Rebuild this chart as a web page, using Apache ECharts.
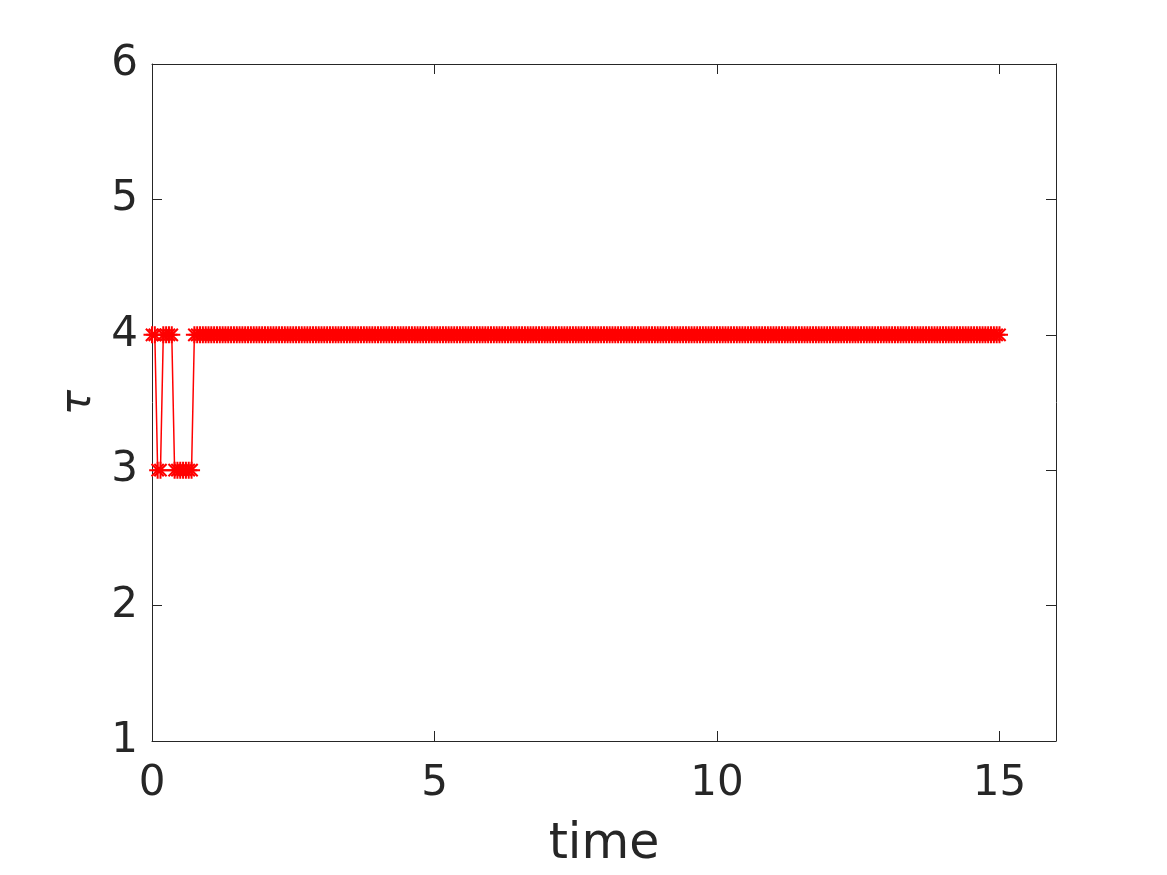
<!DOCTYPE html>
<html lang="en">
<head>
    <meta charset="UTF-8">
    <title>tau vs time</title>
    <script src="https://cdn.jsdelivr.net/npm/echarts@6/dist/echarts.min.js"></script>
    <style>
        html, body {margin: 0; padding: 0; background: #ffffff;}
        #chart {width: 1167px; height: 875px;}
    </style>
</head>
<body>
<div id="chart"></div>
<script type="text/javascript">
    // sample times (step looks like 0.05)
    var times = [
        0, 0.05, 0.1, 0.15, 0.2, 0.25, 0.3, 0.35, 0.4, 0.45, 0.5, 0.55, 0.6, 0.65, 0.7, 0.75, 0.8, 0.85, 0.9, 0.95,
        1, 1.05, 1.1, 1.15, 1.2, 1.25, 1.3, 1.35, 1.4, 1.45, 1.5, 1.55, 1.6, 1.65, 1.7, 1.75, 1.8, 1.85, 1.9, 1.95,
        2, 2.05, 2.1, 2.15, 2.2, 2.25, 2.3, 2.35, 2.4, 2.45, 2.5, 2.55, 2.6, 2.65, 2.7, 2.75, 2.8, 2.85, 2.9, 2.95,
        3, 3.05, 3.1, 3.15, 3.2, 3.25, 3.3, 3.35, 3.4, 3.45, 3.5, 3.55, 3.6, 3.65, 3.7, 3.75, 3.8, 3.85, 3.9, 3.95,
        4, 4.05, 4.1, 4.15, 4.2, 4.25, 4.3, 4.35, 4.4, 4.45, 4.5, 4.55, 4.6, 4.65, 4.7, 4.75, 4.8, 4.85, 4.9, 4.95,
        5, 5.05, 5.1, 5.15, 5.2, 5.25, 5.3, 5.35, 5.4, 5.45, 5.5, 5.55, 5.6, 5.65, 5.7, 5.75, 5.8, 5.85, 5.9, 5.95,
        6, 6.05, 6.1, 6.15, 6.2, 6.25, 6.3, 6.35, 6.4, 6.45, 6.5, 6.55, 6.6, 6.65, 6.7, 6.75, 6.8, 6.85, 6.9, 6.95,
        7, 7.05, 7.1, 7.15, 7.2, 7.25, 7.3, 7.35, 7.4, 7.45, 7.5, 7.55, 7.6, 7.65, 7.7, 7.75, 7.8, 7.85, 7.9, 7.95,
        8, 8.05, 8.1, 8.15, 8.2, 8.25, 8.3, 8.35, 8.4, 8.45, 8.5, 8.55, 8.6, 8.65, 8.7, 8.75, 8.8, 8.85, 8.9, 8.95,
        9, 9.05, 9.1, 9.15, 9.2, 9.25, 9.3, 9.35, 9.4, 9.45, 9.5, 9.55, 9.6, 9.65, 9.7, 9.75, 9.8, 9.85, 9.9, 9.95,
        10, 10.05, 10.1, 10.15, 10.2, 10.25, 10.3, 10.35, 10.4, 10.45, 10.5, 10.55, 10.6, 10.65, 10.7, 10.75, 10.8, 10.85, 10.9, 10.95,
        11, 11.05, 11.1, 11.15, 11.2, 11.25, 11.3, 11.35, 11.4, 11.45, 11.5, 11.55, 11.6, 11.65, 11.7, 11.75, 11.8, 11.85, 11.9, 11.95,
        12, 12.05, 12.1, 12.15, 12.2, 12.25, 12.3, 12.35, 12.4, 12.45, 12.5, 12.55, 12.6, 12.65, 12.7, 12.75, 12.8, 12.85, 12.9, 12.95,
        13, 13.05, 13.1, 13.15, 13.2, 13.25, 13.3, 13.35, 13.4, 13.45, 13.5, 13.55, 13.6, 13.65, 13.7, 13.75, 13.8, 13.85, 13.9, 13.95,
        14, 14.05, 14.1, 14.15, 14.2, 14.25, 14.3, 14.35, 14.4, 14.45, 14.5, 14.55, 14.6, 14.65, 14.7, 14.75, 14.8, 14.85, 14.9, 14.95,
        15
    ];

    // tau at each sample time
    var tau = [
        4, 4, 3, 3, 4, 4, 4, 4, 3, 3, 3, 3, 3, 3, 3, 4, 4, 4, 4, 4,
        4, 4, 4, 4, 4, 4, 4, 4, 4, 4, 4, 4, 4, 4, 4, 4, 4, 4, 4, 4,
        4, 4, 4, 4, 4, 4, 4, 4, 4, 4, 4, 4, 4, 4, 4, 4, 4, 4, 4, 4,
        4, 4, 4, 4, 4, 4, 4, 4, 4, 4, 4, 4, 4, 4, 4, 4, 4, 4, 4, 4,
        4, 4, 4, 4, 4, 4, 4, 4, 4, 4, 4, 4, 4, 4, 4, 4, 4, 4, 4, 4,
        4, 4, 4, 4, 4, 4, 4, 4, 4, 4, 4, 4, 4, 4, 4, 4, 4, 4, 4, 4,
        4, 4, 4, 4, 4, 4, 4, 4, 4, 4, 4, 4, 4, 4, 4, 4, 4, 4, 4, 4,
        4, 4, 4, 4, 4, 4, 4, 4, 4, 4, 4, 4, 4, 4, 4, 4, 4, 4, 4, 4,
        4, 4, 4, 4, 4, 4, 4, 4, 4, 4, 4, 4, 4, 4, 4, 4, 4, 4, 4, 4,
        4, 4, 4, 4, 4, 4, 4, 4, 4, 4, 4, 4, 4, 4, 4, 4, 4, 4, 4, 4,
        4, 4, 4, 4, 4, 4, 4, 4, 4, 4, 4, 4, 4, 4, 4, 4, 4, 4, 4, 4,
        4, 4, 4, 4, 4, 4, 4, 4, 4, 4, 4, 4, 4, 4, 4, 4, 4, 4, 4, 4,
        4, 4, 4, 4, 4, 4, 4, 4, 4, 4, 4, 4, 4, 4, 4, 4, 4, 4, 4, 4,
        4, 4, 4, 4, 4, 4, 4, 4, 4, 4, 4, 4, 4, 4, 4, 4, 4, 4, 4, 4,
        4, 4, 4, 4, 4, 4, 4, 4, 4, 4, 4, 4, 4, 4, 4, 4, 4, 4, 4, 4,
        4
    ];

    var xTicks = [0, 5, 10, 15];
    var yTicks = [1, 2, 3, 4, 5, 6];

    var points = [];
    for (var i = 0; i < times.length; i++) {
        points.push([times[i], tau[i]]);
    }

    var ink = '#262626';
    var font = 'DejaVu Sans';
    var star = 'path://M0,-1L0,1M-1,0L1,0M-0.72,-0.72L0.72,0.72M-0.72,0.72L0.72,-0.72';

    var chart = echarts.init(document.getElementById('chart'));

    var tickLabel = function (list) {
        return function (v) {
            return list.indexOf(v) >= 0 ? String(v) : '';
        };
    };

    var option = {
        backgroundColor: '#ffffff',
        animation: false,
        grid: {left: 152, top: 64, width: 904, height: 677, containLabel: false},
        xAxis: [{
            type: 'value', min: 0, max: 16, interval: 5, position: 'bottom',
            name: 'time', nameLocation: 'middle', nameGap: 80,
            nameTextStyle: {fontFamily: font, fontSize: 49, color: ink},
            axisLine: {show: true, onZero: false, lineStyle: {color: ink, width: 1}},
            axisTick: {show: true, inside: true, length: 10, lineStyle: {color: ink}},
            axisLabel: {margin: 22, fontFamily: font, fontSize: 42, color: ink, formatter: tickLabel(xTicks)},
            splitLine: {show: false}
        }, {
            type: 'value', min: 0, max: 16, interval: 5, position: 'top',
            axisLine: {show: true, onZero: false, lineStyle: {color: ink, width: 1}},
            axisTick: {show: true, inside: true, length: 10, lineStyle: {color: ink}},
            axisLabel: {show: false},
            splitLine: {show: false}
        }],
        yAxis: [{
            type: 'value', min: 1, max: 6, interval: 1, position: 'left',
            name: 'τ', nameLocation: 'middle', nameGap: 50, nameRotate: 90,
            nameTextStyle: {fontFamily: font, fontSize: 42, fontStyle: 'italic', color: ink},
            axisLine: {show: true, onZero: false, lineStyle: {color: ink, width: 1}},
            axisTick: {show: true, inside: true, length: 10, lineStyle: {color: ink}},
            axisLabel: {margin: 14, fontFamily: font, fontSize: 42, color: ink, formatter: tickLabel(yTicks)},
            splitLine: {show: false}
        }, {
            type: 'value', min: 1, max: 6, interval: 1, position: 'right',
            axisLine: {show: true, onZero: false, lineStyle: {color: ink, width: 1}},
            axisTick: {show: true, inside: true, length: 10, lineStyle: {color: ink}},
            axisLabel: {show: false},
            splitLine: {show: false}
        }],
        series: [{
            type: 'line',
            xAxisIndex: 0,
            yAxisIndex: 0,
            data: points,
            symbol: star,
            symbolSize: 17,
            showAllSymbol: true,
            lineStyle: {color: '#ff0000', width: 1.5},
            itemStyle: {color: '#ff0000', borderColor: '#ff0000', borderWidth: 2},
            emphasis: {disabled: true}
        }]
    };

    chart.setOption(option);
</script>
</body>
</html>
